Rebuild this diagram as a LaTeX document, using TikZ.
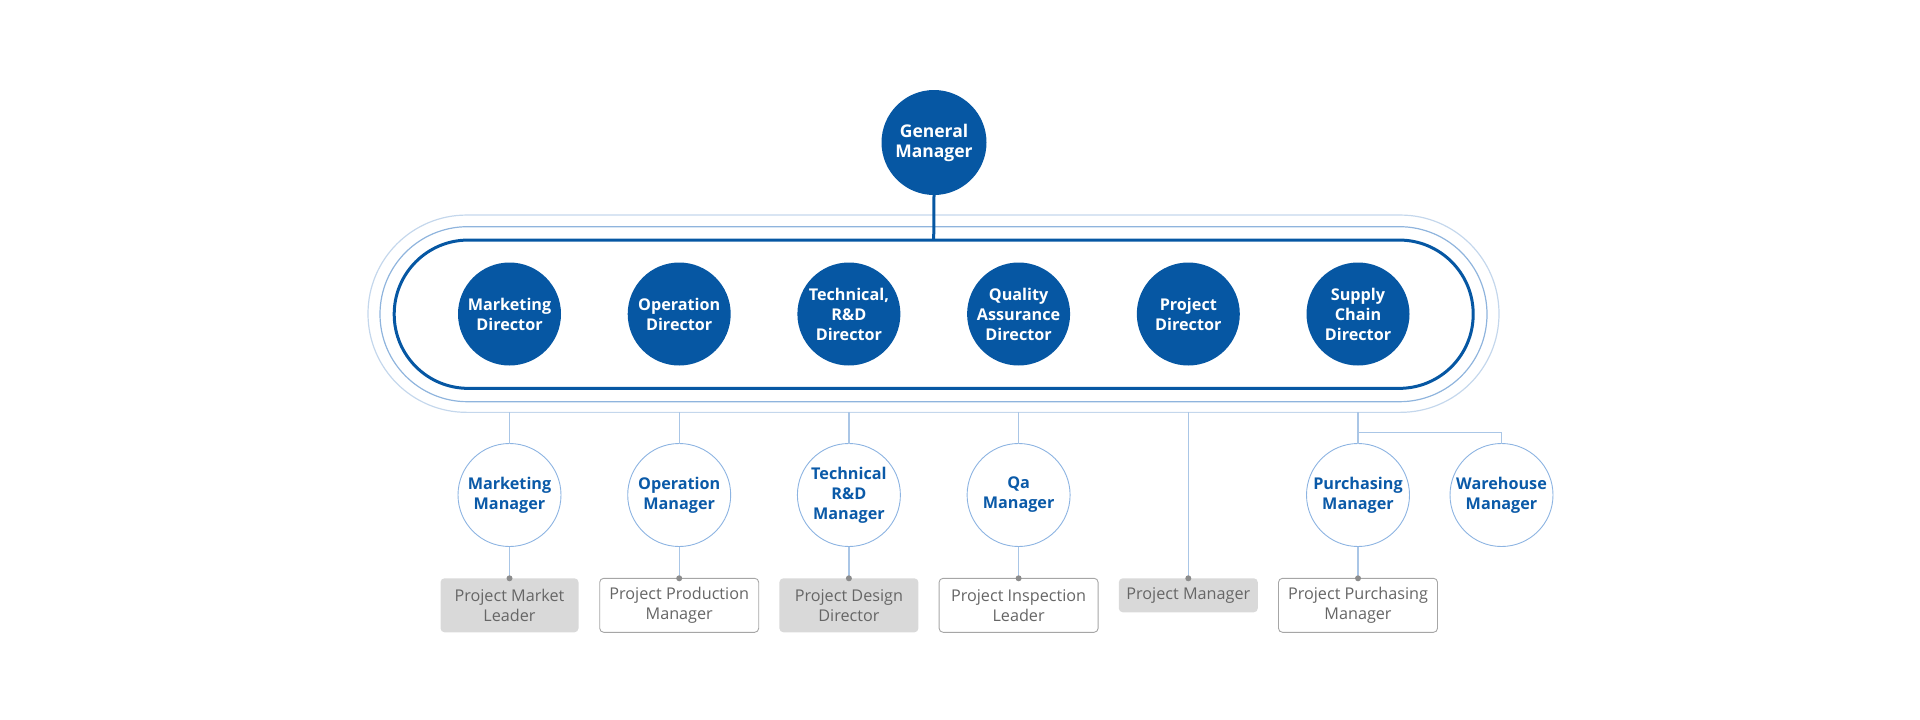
\documentclass[tikz,border=0pt]{standalone}
\usepackage{fontspec}
\setmainfont{Open Sans}
\usetikzlibrary{calc}
\definecolor{dblue}{RGB}{6,87,163}
\definecolor{mblue}{RGB}{11,90,168}
\definecolor{ring2c}{RGB}{143,180,221}
\definecolor{ring3c}{RGB}{196,215,236}
\definecolor{connc}{RGB}{170,198,230}
\definecolor{mgrc}{RGB}{141,180,226}
\definecolor{boxgray}{RGB}{217,217,217}
\definecolor{boxline}{RGB}{166,166,166}
\definecolor{txtgray}{RGB}{102,102,102}
\definecolor{dotc}{RGB}{140,140,140}
\begin{document}
\begin{tikzpicture}[x=1pt,y=-1pt,
  dirnode/.style={circle,fill=dblue,text=white,inner sep=0pt,outer sep=0pt,minimum size=103pt,align=center,font=\fontsize{16.2}{20}\selectfont\bfseries},
  mgrnode/.style={circle,draw=mgrc,line width=0.9pt,fill=white,text=mblue,inner sep=0pt,outer sep=0pt,minimum size=103pt,align=center,font=\fontsize{16.2}{20}\selectfont\bfseries},
  graybox/.style={rectangle,rounded corners=4pt,fill=boxgray,text=txtgray,inner sep=0pt,outer sep=0pt,align=center,font=\fontsize{16.2}{20}\selectfont},
  whitebox/.style={rectangle,rounded corners=4pt,draw=boxline,line width=0.9pt,fill=white,text=txtgray,inner sep=0pt,outer sep=0pt,align=center,font=\fontsize{16.2}{20}\selectfont},
  conn/.style={draw=connc,line width=1.2pt},
  dotmark/.style={circle,fill=dotc,inner sep=0pt,minimum size=6pt}
]
\useasboundingbox (0,0) rectangle (1920,720);
% rings
\node[draw=ring3c,line width=1.2pt,rectangle,rounded corners=98.6pt,minimum width=1131pt,minimum height=197.3pt,inner sep=0pt,outer sep=0pt] (ring3) at (933.5,313.7) {};
\node[draw=ring2c,line width=1.2pt,rectangle,rounded corners=87.5pt,minimum width=1107pt,minimum height=175pt,inner sep=0pt,outer sep=0pt] (ring2) at (933.5,314.2) {};
\node[draw=dblue,line width=3pt,rectangle,rounded corners=74pt,minimum width=1079pt,minimum height=148.3pt,inner sep=0pt,outer sep=0pt] (ring1) at (933.7,314.2) {};
% general manager
\node[dirnode,minimum size=105pt,font=\fontsize{17.5}{20}\selectfont\bfseries] (gm) at (934,142.5) {General\\Manager};
\draw[dblue,line width=3pt] (gm.south) -- (ring1.north);
% directors
\node[dirnode] (d1) at (509.5,314) {Marketing\\Director};
\node[dirnode] (d2) at (679.2,314) {Operation\\Director};
\node[dirnode] (d3) at (848.9,314) {Technical,\\R\&D\\Director};
\node[dirnode] (d4) at (1018.6,314) {Quality\\Assurance\\Director};
\node[dirnode] (d5) at (1188.3,314) {Project\\Director};
\node[dirnode] (d6) at (1358,314) {Supply\\Chain\\Director};
% managers
\node[mgrnode] (m1) at (509.5,495) {Marketing\\Manager};
\node[mgrnode] (m2) at (679.2,495) {Operation\\Manager};
\node[mgrnode] (m3) at (848.9,495) {Technical\\R\&D\\Manager};
\node[mgrnode] (m4) at (1018.6,495) {Qa\\Manager};
\node[mgrnode] (m6) at (1358,495) {Purchasing\\Manager};
\node[mgrnode] (m7) at (1501.5,495) {Warehouse\\Manager};
% boxes
\node[graybox,minimum width=138pt,minimum height=54pt] (b1) at (509.5,605.3) {Project Market\\Leader};
\node[whitebox,minimum width=159pt,minimum height=54pt] (b2) at (679.2,605.3) {Project Production\\Manager};
\node[graybox,minimum width=139pt,minimum height=54pt] (b3) at (848.9,605.3) {Project Design\\Director};
\node[whitebox,minimum width=159pt,minimum height=54pt] (b4) at (1018.6,605.3) {Project Inspection\\Leader};
\node[graybox,minimum width=139pt,minimum height=34pt] (b5) at (1188.3,595.3) {Project Manager};
\node[whitebox,minimum width=159pt,minimum height=54pt] (b6) at (1358,605.3) {Project Purchasing\\Manager};
% connectors ring -> managers
\foreach \d/\m in {d1/m1,d2/m2,d3/m3,d4/m4,d6/m6}{
  \draw[conn] (\d |- ring3.south) -- (\m.north);
}
\draw[conn] (d5 |- ring3.south) -- (b5.north);
\coordinate (br) at ($(d6 |- ring3.south)!0.65!(m6.north)$);
\draw[conn] (br) -| (m7.north);
% managers -> boxes
\foreach \m/\b in {m1/b1,m2/b2,m3/b3,m4/b4,m6/b6}{
  \draw[conn] (\m.south) -- (\b.north);
}
\foreach \b in {b1,b2,b3,b4,b5,b6}{
  \node[dotmark] at (\b.north) {};
}
\end{tikzpicture}
\end{document}
